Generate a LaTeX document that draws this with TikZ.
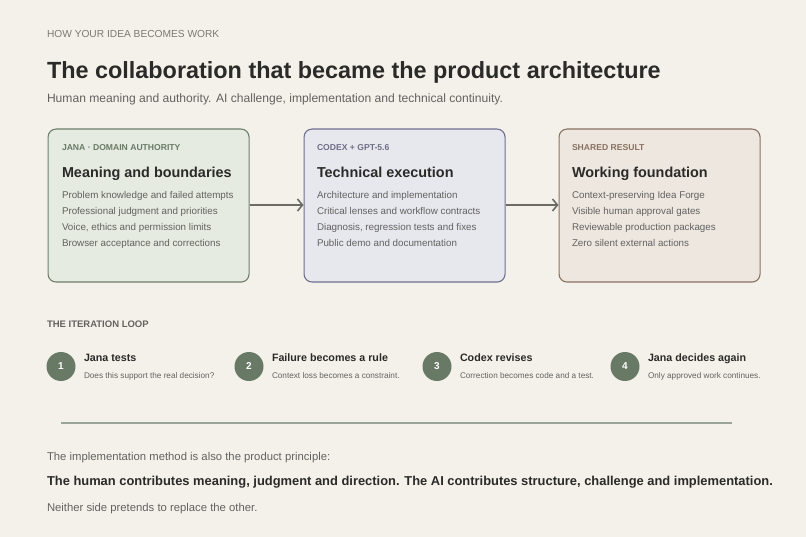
\documentclass[tikz,border=0pt]{standalone}
\usepackage{fontspec}
\setmainfont{Liberation Sans}
\usetikzlibrary{arrows.meta}
\definecolor{bg}{HTML}{F4F1EA}
\definecolor{ink}{HTML}{2A2A28}
\definecolor{soft}{HTML}{626260}
\definecolor{muted}{HTML}{7A7A76}
\definecolor{gfill}{HTML}{E5EBE1}
\definecolor{gline}{HTML}{6E7F6B}
\definecolor{glab}{HTML}{6A7A66}
\definecolor{bfill}{HTML}{E7E7EE}
\definecolor{bline}{HTML}{6E7090}
\definecolor{blab}{HTML}{6E7088}
\definecolor{rfill}{HTML}{EDE7E0}
\definecolor{rline}{HTML}{8A7262}
\definecolor{rlab}{HTML}{8A7262}
\definecolor{arrowc}{HTML}{6B6B68}
\definecolor{dot}{HTML}{687A66}
\definecolor{rule}{HTML}{9AA598}
\tikzset{
  txt/.style={anchor=base west, inner sep=0pt, outer sep=0pt},
  card/.style={draw=#1, line width=1.1pt, rounded corners=8pt, minimum width=201pt, minimum height=153pt, anchor=north west, inner sep=0pt},
  cardlab/.style={txt, font=\fontsize{8.6}{10}\selectfont\bfseries},
  cardtitle/.style={txt, text=ink, font=\fontsize{14.4}{17}\selectfont\bfseries},
  carditem/.style={txt, text=soft, font=\fontsize{9.8}{12}\selectfont},
  flow/.style={draw=arrowc, line width=1.8pt, -{Straight Barb[length=5pt,width=12pt,line width=1.6pt]}},
  stepdot/.style={circle, fill=dot, minimum size=29pt, inner sep=0pt, text=white, font=\fontsize{10}{12}\selectfont\bfseries},
  steptitle/.style={txt, text=ink, font=\fontsize{10.7}{13}\selectfont\bfseries},
  stepsub/.style={txt, text=soft, font=\fontsize{8.2}{10}\selectfont},
}
\begin{document}
\begin{tikzpicture}[x=1pt,y=-1pt]
\fill[bg] (0,0) rectangle (806,537);
\useasboundingbox (0,0) rectangle (806,537);

\node[txt, text=muted, font=\fontsize{10.2}{12}\selectfont] (kicker) at (47,38) {HOW YOUR IDEA BECOMES WORK};
\node[txt, text=ink, font=\fontsize{23.4}{28}\selectfont\bfseries] (title) at (47,78.5) {The collaboration that became the product architecture};
\node[txt, text=soft, font=\fontsize{12.1}{15}\selectfont] (subtitle) at (47,103) {Human meaning and authority. AI challenge, implementation and technical continuity.};

% cards
\node[card=gline, fill=gfill] (c1) at (47.5,128.5) {};
\node[card=bline, fill=bfill] (c2) at (303.5,128.5) {};
\node[card=rline, fill=rfill] (c3) at (558.5,128.5) {};

\node[cardlab, text=glab] (l1) at (62,151) {JANA · DOMAIN AUTHORITY};
\node[cardtitle] (t1) at (62,177.5) {Meaning and boundaries};
\node[carditem] (i1a) at (62,199) {Problem knowledge and failed attempts};
\node[carditem] (i1b) at (62,215) {Professional judgment and priorities};
\node[carditem] (i1c) at (62,231) {Voice, ethics and permission limits};
\node[carditem] (i1d) at (62,247) {Browser acceptance and corrections};

\node[cardlab, text=blab] (l2) at (317,151) {CODEX + GPT-5.6};
\node[cardtitle] (t2) at (317,177.5) {Technical execution};
\node[carditem] (i2a) at (317,199) {Architecture and implementation};
\node[carditem] (i2b) at (317,215) {Critical lenses and workflow contracts};
\node[carditem] (i2c) at (317,231) {Diagnosis, regression tests and fixes};
\node[carditem] (i2d) at (317,247) {Public demo and documentation};

\node[cardlab, text=rlab] (l3) at (572,151) {SHARED RESULT};
\node[cardtitle] (t3) at (572,177.5) {Working foundation};
\node[carditem] (i3a) at (572,199) {Context-preserving Idea Forge};
\node[carditem] (i3b) at (572,215) {Visible human approval gates};
\node[carditem] (i3c) at (572,231) {Reviewable production packages};
\node[carditem] (i3d) at (572,247) {Zero silent external actions};

\draw[flow] (c1.east |- 0,205) -- (c2.west |- 0,205);
\draw[flow] (c2.east |- 0,205) -- (c3.west |- 0,205);

% iteration loop
\node[txt, text=soft, font=\fontsize{9.5}{11}\selectfont\bfseries] (loop) at (47,328) {THE ITERATION LOOP};

\node[stepdot] (s1) at (61,366.5) {1};
\node[steptitle] (st1) at (84,361) {Jana tests};
\node[stepsub] (ss1) at (84,378) {Does this support the real decision?};

\node[stepdot] (s2) at (249,366.5) {2};
\node[steptitle] (st2) at (272,361) {Failure becomes a rule};
\node[stepsub] (ss2) at (272,378) {Context loss becomes a constraint.};

\node[stepdot] (s3) at (437,366.5) {3};
\node[steptitle] (st3) at (460,361) {Codex revises};
\node[stepsub] (ss3) at (460,378) {Correction becomes code and a test.};

\node[stepdot] (s4) at (625,366.5) {4};
\node[steptitle] (st4) at (648,361) {Jana decides again};
\node[stepsub] (ss4) at (648,378) {Only approved work continues.};

% divider
\coordinate (dl) at (61,423);
\coordinate (dr) at (732,423);
\draw[rule, line width=1.3pt] (dl) -- (dr);

\node[txt, text=soft, font=\fontsize{11.3}{14}\selectfont] (p1) at (47,460) {The implementation method is also the product principle:};
\node[txt, text=ink, font=\fontsize{12.9}{16}\selectfont\bfseries] (p2) at (47,485.5) {The human contributes meaning, judgment and direction. The AI contributes structure, challenge and implementation.};
\node[txt, text=soft, font=\fontsize{11.3}{14}\selectfont] (p3) at (47,511) {Neither side pretends to replace the other.};
\end{tikzpicture}
\end{document}
